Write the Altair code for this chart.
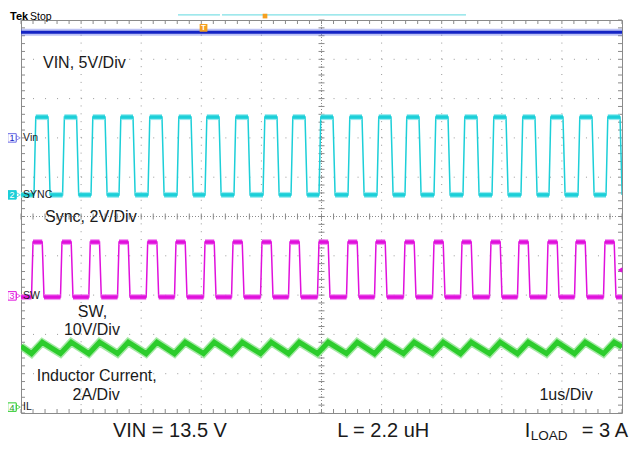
import altair as alt
import pandas as pd

# ---------------- values read from the scope capture ----------------
# horizontal: 1 us/div, 10 divisions; vertical: screen divisions (10 div)
vin_time_us = [0.0, 10.0]
vin_level_div = [9.69, 9.69]

sync_rise_us = [0.216, 0.692, 1.165, 1.631, 2.113, 2.596, 3.062, 3.544, 4.027, 4.493, 4.958,
                5.441, 5.923, 6.389, 6.872, 7.354, 7.837, 8.319, 8.785, 9.268, 9.734]
sync_fall_us = [0.449, 0.925, 1.398, 1.864, 2.346, 2.829, 3.295, 3.777, 4.260, 4.726, 5.191,
                5.674, 6.156, 6.622, 7.105, 7.587, 8.070, 8.552, 9.018, 9.501, 9.967]
sync_low_div, sync_high_div = 5.55, 7.53

sw_rise_us = [0.175, 0.657, 1.128, 1.606, 2.083, 2.554, 3.037, 3.503, 3.985, 4.451, 4.933,
              5.416, 5.882, 6.364, 6.847, 7.313, 7.795, 8.261, 8.744, 9.210, 9.692]
sw_fall_us = [0.353, 0.835, 1.306, 1.784, 2.261, 2.732, 3.215, 3.681, 4.163, 4.629, 5.111,
              5.594, 6.060, 6.542, 7.025, 7.491, 7.973, 8.439, 8.922, 9.388, 9.870]
sw_low_div, sw_high_div = 2.95, 4.35

# inductor current: valleys at SW rising edges, peaks at SW falling edges
il_valley_div = [1.51, 1.51, 1.51, 1.51, 1.51, 1.51, 1.51, 1.51, 1.51, 1.51, 1.51,
                 1.51, 1.51, 1.51, 1.51, 1.51, 1.51, 1.51, 1.51, 1.51, 1.51]
il_peak_div = [1.80, 1.80, 1.80, 1.80, 1.80, 1.80, 1.80, 1.80, 1.80, 1.80, 1.80,
               1.80, 1.80, 1.80, 1.80, 1.80, 1.80, 1.80, 1.80, 1.80, 1.80]
il_start_div, il_end_div = 1.70, 1.68

annotations = ["VIN, 5V/Div", "Sync, 2V/Div"]
center_notes = ["SW,", "10V/Div", "Inductor Current,", "2A/Div", "1us/Div"]
channel_names = ["Vin", "SYNC", "SW", "IL"]
channel_ids = ["1", "2", "3", "4"]

C_VIN, C_SYNC, C_SW, C_IL = "#1424c4", "#1ccfd8", "#e010dc", "#2ccc2c"
GRID = "#9a9a9a"
FONT = "Liberation Sans"

xs = alt.Scale(domain=[0, 10], nice=False, zero=False)
ys = alt.Scale(domain=[0, 10], nice=False, zero=False)
X = lambda f="t": alt.X(f + ":Q", scale=xs, axis=None)
Y = lambda f="d": alt.Y(f + ":Q", scale=ys, axis=None)

# ---------------- graticule ----------------
divs = list(range(11))
minor = [round(i * 0.2, 1) for i in range(51)]

def vrules(ts, d0, d1, **kw):
    df = pd.DataFrame({"t": ts, "d": [d0] * len(ts), "d2": [d1] * len(ts)})
    return alt.Chart(df).mark_rule(**kw).encode(x=X(), y=Y(), y2="d2:Q")

def hrules(ds, t0, t1, **kw):
    df = pd.DataFrame({"d": ds, "t": [t0] * len(ds), "t2": [t1] * len(ds)})
    return alt.Chart(df).mark_rule(**kw).encode(y=Y(), x=X(), x2="t2:Q")

grid = [
    vrules(divs[1:-1], 0, 10, color=GRID, strokeDash=[1, 6.86], strokeWidth=1),
    hrules(divs[1:-1], 0, 10, color=GRID, strokeDash=[1, 11.02], strokeWidth=1),
    vrules([5], 0, 10, color="#8a8a8a", strokeDash=[1, 2]),
    hrules([5], 0, 10, color="#8a8a8a", strokeDash=[1, 2]),
    vrules(minor, 0, 0, color="#8a8a8a", yOffset=-4, y2Offset=0),
    vrules(minor, 10, 10, color="#8a8a8a", yOffset=0, y2Offset=4),
    vrules(minor, 5, 5, color="#8a8a8a", yOffset=-3, y2Offset=3),
    hrules(minor, 0, 0, color="#8a8a8a", xOffset=0, x2Offset=4),
    hrules(minor, 10, 10, color="#8a8a8a", xOffset=-4, x2Offset=0),
    hrules(minor, 5, 5, color="#8a8a8a", xOffset=-3, x2Offset=3),
]

# ---------------- waveforms ----------------
def wave_df(rises, falls, lo, hi, tr, tf):
    rows = [(0.0, lo)]
    for r, f in zip(rises, falls):
        rows += [(r, lo), (r + tr, hi), (f, hi), (f + tf, lo)]
    rows.append((10.0, lo))
    return pd.DataFrame({"i": range(len(rows)), "t": [a for a, _ in rows], "d": [b for _, b in rows]})

def plateau_df(rises, falls, lo, hi, tr, tf):
    segs, prev = [], 0.0
    for r, f in zip(rises, falls):
        segs.append((prev, r, lo))
        segs.append((r + tr, f, hi))
        prev = f + tf
    segs.append((min(prev, 10.0), 10.0, lo))
    return pd.DataFrame(segs, columns=["t", "t2", "d"])

def trace(df, color, width, opacity=1.0):
    return alt.Chart(df).mark_line(color=color, strokeWidth=width, clip=True, opacity=opacity).encode(
        x=X(), y=Y(), order="i:Q")

def plateaus(df, color, width, opacity=1.0):
    return alt.Chart(df).mark_rule(color=color, strokeWidth=width, clip=True, opacity=opacity).encode(
        x=X(), x2="t2:Q", y=Y())

vin_df = pd.DataFrame({"i": [0, 1], "t": vin_time_us, "d": vin_level_div})
vin = [trace(vin_df, "#5a6ae6", 7, 0.4), trace(vin_df, C_VIN, 3)]

sync_w = wave_df(sync_rise_us, sync_fall_us, sync_low_div, sync_high_div, 0.03, 0.035)
sync_p = plateau_df(sync_rise_us, sync_fall_us, sync_low_div, sync_high_div, 0.03, 0.035)
sync = [trace(sync_w, C_SYNC, 1.5), plateaus(sync_p, "#7fe6ec", 6, 0.8), plateaus(sync_p, C_SYNC, 3.5)]

sw_w = wave_df(sw_rise_us, sw_fall_us, sw_low_div, sw_high_div, 0.025, 0.03)
sw_p = plateau_df(sw_rise_us, sw_fall_us, sw_low_div, sw_high_div, 0.025, 0.03)
sw = [trace(sw_w, C_SW, 1.5), plateaus(sw_p, "#f07ef0", 6, 0.8), plateaus(sw_p, C_SW, 3.5)]

il_t = [0.0]
il_v = [il_start_div]
for a, b, va, vb in zip(sw_rise_us, sw_fall_us, il_valley_div, il_peak_div):
    il_t += [a, b]
    il_v += [va, vb]
il_t.append(10.0)
il_v.append(il_end_div)
il_df = pd.DataFrame({"i": range(len(il_t)), "t": il_t, "d": il_v})
il = [trace(il_df, "#7ee07e", 8, 0.7), trace(il_df, C_IL, 5)]

# ---------------- texts ----------------
def texts(t, d, s, **kw):
    props = dict(font=FONT, fontSize=16, color="#1a1a1a", baseline="alphabetic")
    props.update(kw)
    return alt.Chart(pd.DataFrame({"t": t, "d": d, "s": s})).mark_text(**props).encode(
        x=X(), y=Y(), text="s:N")

notes = [
    texts([0.366, 0.40], [8.78, 4.86], annotations, align="left"),
    texts([1.19, 1.18, 1.26, 1.25, 9.07], [2.44, 1.98, 0.81, 0.33, 0.33], center_notes, align="center"),
    texts([1.53, 5.26], [-0.60, -0.60], ["VIN = 13.5 V", "L = 2.2 uH"], align="left", fontSize=20),
    texts([8.38], [-0.60], ["I"], align="left", fontSize=20),
    texts([8.48], [-0.675], ["LOAD"], align="left", fontSize=13.5),
    texts([10.10], [-0.60], ["= 3 A"], align="right", fontSize=20),
    texts([-0.183], [10.01], ["Tek"], align="left", fontSize=11, fontWeight="bold", color="#000000"),
    texts([0.15], [10.01], ["Stop"], align="left", fontSize=10.5, color="#000000"),
]

# channel markers
ch_d = [7.00, 5.55, 2.98, 0.15]
ch_stroke = ["#6a6ae6", C_SYNC, C_SW, C_IL]
ch_fill = ["#ffffff", C_SYNC, "#ffffff", "#ffffff"]
ch_num = [C_VIN, "#ffffff", C_SW, "#1a9a1a"]
ch_df = pd.DataFrame({"t": [-0.150] * 4, "d": ch_d, "s": channel_ids, "st": ch_stroke,
                      "fi": ch_fill, "nc": ch_num, "ta": [-0.045] * 4, "tl": [0.035] * 4,
                      "name": channel_names})
boxes = alt.Chart(ch_df).mark_point(shape="square", size=72, strokeWidth=1, fillOpacity=1, opacity=1).encode(
    x=X(), y=Y(), fill=alt.Fill("fi:N", scale=None), stroke=alt.Stroke("st:N", scale=None))
nums = alt.Chart(ch_df).mark_text(font=FONT, fontSize=9, baseline="middle", align="center", dy=0.5).encode(
    x=X(), y=Y(), text="s:N", color=alt.Color("nc:N", scale=None))
arrows = alt.Chart(ch_df).mark_point(shape="triangle-right", size=22, strokeWidth=1, filled=False).encode(
    x=X("ta"), y=Y(), stroke=alt.Stroke("st:N", scale=None))
names = alt.Chart(ch_df).mark_text(font=FONT, fontSize=10.5, baseline="middle", align="left", color="#1a1a1a").encode(
    x=X("tl"), y=Y(), text="name:N")

# top record bar and trigger markers
bar_df = pd.DataFrame({"t": [2.612, 3.344], "t2": [3.311, 7.404], "d": [10.13, 10.13]})
bar = alt.Chart(bar_df).mark_rule(color="#7fe0e6", strokeWidth=1.2).encode(x=X(), x2="t2:Q", y=Y())
trig_big = alt.Chart(pd.DataFrame({"t": [3.037], "d": [9.80]})).mark_point(
    shape="square", filled=True, color="#f5a020", opacity=1, size=60).encode(x=X(), y=Y())
trig_small = alt.Chart(pd.DataFrame({"t": [4.06], "d": [10.10]})).mark_point(
    shape="square", filled=True, color="#f5a020", opacity=1, size=22).encode(x=X(), y=Y())
trig_t = texts([3.037], [9.80], ["T"], align="center", baseline="middle", fontSize=8,
               fontWeight="bold", color="#ffffff")
lvl = alt.Chart(pd.DataFrame({"t": [9.967], "d": [3.64]})).mark_point(
    shape="triangle-left", filled=True, size=30, color=C_SW, opacity=1).encode(x=X(), y=Y())

layers = grid + vin + sync + sw + il + notes + \
         [boxes, nums, arrows, names, bar, trig_big, trig_small, trig_t, lvl]

chart = alt.layer(*layers).properties(
    width=601, height=393,
    autosize=alt.AutoSizeParams(type="none"),
    padding={"left": 13, "top": 12, "right": 7, "bottom": 29},
    background="#ffffff",
).configure_view(stroke="#8a8a8a", strokeWidth=1)

chart.save("out.html", embed_options={"renderer": "svg", "actions": False})
